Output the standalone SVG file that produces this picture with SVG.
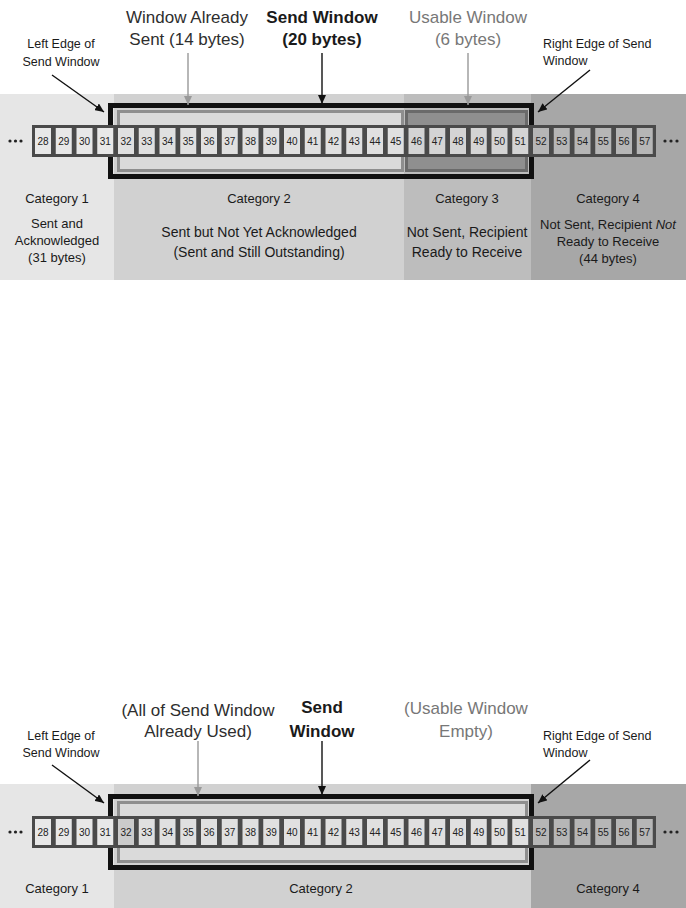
<svg xmlns="http://www.w3.org/2000/svg" xmlns:xlink="http://www.w3.org/1999/xlink" width="686" height="908" viewBox="0 0 686 908">
<defs>
<style>
text{font-family:"Liberation Sans",Arial,sans-serif;fill:#1a1a1a}
.hd{font-size:17px;text-anchor:middle}
.hdb{font-size:17px;text-anchor:middle;font-weight:bold}
.gr{fill:#777}
.dk{fill:#2e2e2e}
.sm{font-size:12.5px}
.mid{text-anchor:middle}
.cat{font-size:13px;text-anchor:middle}
.d13{font-size:13px;text-anchor:middle}
.d14{font-size:14px;text-anchor:middle}
.num{font-size:10px;text-anchor:middle;fill:#222}
.row{fill:#4a4a4a}
.c1{fill:#e8e8e8}
.c2{fill:#e0e0e0}
.c3{fill:#d4d4d4}
.c4{fill:#b6b6b6}
.c2d{fill:#cbcbcb}
.win{fill:none;stroke:#111;stroke-width:5}
.sent{fill:#dadada;stroke:#8e8e8e;stroke-width:3}
.usable{fill:#8f8f8f;stroke:#6a6a6a;stroke-width:3}
.ak{stroke:#111;stroke-width:1.4;fill:none}
.ag{stroke:#999;stroke-width:1.4;fill:none}
.dot{fill:#222}
</style>
<marker id="hk" markerUnits="userSpaceOnUse" markerWidth="10" markerHeight="8" refX="9" refY="4" orient="auto"><path d="M0,0 L9,4 L0,8 z" fill="#111"/></marker>
<marker id="hg" markerUnits="userSpaceOnUse" markerWidth="10" markerHeight="8" refX="9" refY="4" orient="auto"><path d="M0,0 L9,4 L0,8 z" fill="#999"/></marker>
</defs>

<!-- ===== TOP DIAGRAM ===== -->
<g id="top-bands">
<rect x="0" y="94" width="114" height="186" fill="#e6e6e6"/>
<rect x="114" y="94" width="290" height="186" fill="#d1d1d1"/>
<rect x="404" y="94" width="127" height="186" fill="#bdbdbd"/>
<rect x="531" y="94" width="155" height="186" fill="#a7a7a7"/>
</g>

<g id="top-send-window">
<rect class="win" x="110.5" y="105.5" width="421" height="71"/>
</g>
<g id="top-window-already-sent">
<rect class="sent" x="118.5" y="111.5" width="284" height="59"/>
</g>
<g id="top-usable-window">
<rect class="usable" x="406.5" y="111.5" width="120" height="59"/>
</g>

<g id="top-bytes">
<rect class="row" x="32" y="125" width="624" height="32"/>
<g transform="translate(0,128)">
<rect class="c1" x="35" width="16" height="26"/><rect class="c1" x="55.75" width="16" height="26"/><rect class="c1" x="76.5" width="16" height="26"/><rect class="c1" x="97.25" width="16" height="26"/>
<rect class="c2" x="118" width="16" height="26"/><rect class="c2" x="138.75" width="16" height="26"/><rect class="c2" x="159.5" width="16" height="26"/><rect class="c2" x="180.25" width="16" height="26"/><rect class="c2" x="201" width="16" height="26"/><rect class="c2" x="221.75" width="16" height="26"/><rect class="c2" x="242.5" width="16" height="26"/><rect class="c2" x="263.25" width="16" height="26"/><rect class="c2" x="284" width="16" height="26"/><rect class="c2" x="304.75" width="16" height="26"/><rect class="c2" x="325.5" width="16" height="26"/><rect class="c2" x="346.25" width="16" height="26"/><rect class="c2" x="367" width="16" height="26"/><rect class="c2" x="387.75" width="16" height="26"/>
<rect class="c3" x="408.5" width="16" height="26"/><rect class="c3" x="429.25" width="16" height="26"/><rect class="c3" x="450" width="16" height="26"/><rect class="c3" x="470.75" width="16" height="26"/><rect class="c3" x="491.5" width="16" height="26"/><rect class="c3" x="512.25" width="16" height="26"/>
<rect class="c4" x="533" width="16" height="26"/><rect class="c4" x="553.75" width="16" height="26"/><rect class="c4" x="574.5" width="16" height="26"/><rect class="c4" x="595.25" width="16" height="26"/><rect class="c4" x="616" width="16" height="26"/><rect class="c4" x="636.75" width="16" height="26"/>
</g>
<g transform="translate(0,144.5)">
<text class="num" x="43">28</text><text class="num" x="63.75">29</text><text class="num" x="84.5">30</text><text class="num" x="105.25">31</text><text class="num" x="126">32</text><text class="num" x="146.75">33</text><text class="num" x="167.5">34</text><text class="num" x="188.25">35</text><text class="num" x="209">36</text><text class="num" x="229.75">37</text><text class="num" x="250.5">38</text><text class="num" x="271.25">39</text><text class="num" x="292">40</text><text class="num" x="312.75">41</text><text class="num" x="333.5">42</text><text class="num" x="354.25">43</text><text class="num" x="375">44</text><text class="num" x="395.75">45</text><text class="num" x="416.5">46</text><text class="num" x="437.25">47</text><text class="num" x="458">48</text><text class="num" x="478.75">49</text><text class="num" x="499.5">50</text><text class="num" x="520.25">51</text><text class="num" x="541">52</text><text class="num" x="561.75">53</text><text class="num" x="582.5">54</text><text class="num" x="603.25">55</text><text class="num" x="624">56</text><text class="num" x="644.75">57</text>
</g>
<circle class="dot" cx="10" cy="141" r="1.6"/><circle class="dot" cx="15.5" cy="141" r="1.6"/><circle class="dot" cx="21" cy="141" r="1.6"/>
<circle class="dot" cx="665" cy="141" r="1.6"/><circle class="dot" cx="671" cy="141" r="1.6"/><circle class="dot" cx="677" cy="141" r="1.6"/>
</g>

<g id="top-labels">
<text class="hd dk" x="187" y="23">Window Already</text>
<text class="hd dk" x="187" y="45">Sent (14 bytes)</text>
<text class="hdb" x="322" y="23">Send Window</text>
<text class="hdb" x="322" y="45">(20 bytes)</text>
<text class="hd gr" x="468" y="23">Usable Window</text>
<text class="hd gr" x="468" y="45">(6 bytes)</text>
<text class="sm mid" x="61" y="48">Left Edge of</text>
<text class="sm mid" x="61" y="66">Send Window</text>
<text class="sm" x="543" y="48">Right Edge of Send</text>
<text class="sm" x="543" y="65">Window</text>
</g>

<g id="top-categories">
<text class="cat" x="57" y="203">Category 1</text>
<text class="d13" x="57" y="228">Sent and</text>
<text class="d13" x="57" y="245">Acknowledged</text>
<text class="d13" x="57" y="262">(31 bytes)</text>
<text class="cat" x="259" y="203">Category 2</text>
<text class="d14" x="259" y="237">Sent but Not Yet Acknowledged</text>
<text class="d14" x="259" y="257">(Sent and Still Outstanding)</text>
<text class="cat" x="467" y="203">Category 3</text>
<text class="d14" x="467" y="237">Not Sent, Recipient</text>
<text class="d14" x="467" y="257">Ready to Receive</text>
<text class="cat" x="608" y="203">Category 4</text>
<text class="d13" x="608" y="229">Not Sent, Recipient <tspan font-style="italic">Not</tspan></text>
<text class="d13" x="608" y="246">Ready to Receive</text>
<text class="d13" x="608" y="263">(44 bytes)</text>
</g>

<g id="top-connectors">
<line class="ak" x1="52" y1="75" x2="104" y2="112" marker-end="url(#hk)"/>
<line class="ag" x1="188" y1="53" x2="188" y2="105" marker-end="url(#hg)"/>
<line class="ak" x1="322" y1="53" x2="322" y2="104" marker-end="url(#hk)"/>
<line class="ag" x1="468" y1="53" x2="468" y2="105" marker-end="url(#hg)"/>
<line class="ak" x1="590" y1="70" x2="538" y2="112" marker-end="url(#hk)"/>
</g>

<!-- ===== BOTTOM DIAGRAM ===== -->
<g id="bottom-bands">
<rect x="0" y="784" width="114" height="124" fill="#e6e6e6"/>
<rect x="114" y="784" width="417" height="124" fill="#d1d1d1"/>
<rect x="531" y="784" width="155" height="124" fill="#a7a7a7"/>
</g>

<g id="bottom-send-window">
<rect class="win" x="110.5" y="796.5" width="421" height="71"/>
</g>
<g id="bottom-window-already-sent">
<rect class="sent" x="118.5" y="802.5" width="408" height="59"/>
</g>

<g id="bottom-bytes">
<rect class="row" x="32" y="816" width="624" height="32"/>
<g transform="translate(0,819)">
<rect class="c1" x="35" width="16" height="26"/><rect class="c1" x="55.75" width="16" height="26"/><rect class="c1" x="76.5" width="16" height="26"/><rect class="c1" x="97.25" width="16" height="26"/>
<rect class="c2d" x="118" width="16" height="26"/><rect class="c2" x="138.75" width="16" height="26"/><rect class="c2" x="159.5" width="16" height="26"/><rect class="c2" x="180.25" width="16" height="26"/><rect class="c2" x="201" width="16" height="26"/><rect class="c2" x="221.75" width="16" height="26"/><rect class="c2" x="242.5" width="16" height="26"/><rect class="c2" x="263.25" width="16" height="26"/><rect class="c2" x="284" width="16" height="26"/><rect class="c2" x="304.75" width="16" height="26"/><rect class="c2" x="325.5" width="16" height="26"/><rect class="c2" x="346.25" width="16" height="26"/><rect class="c2" x="367" width="16" height="26"/><rect class="c2" x="387.75" width="16" height="26"/>
<rect class="c2" x="408.5" width="16" height="26"/><rect class="c2" x="429.25" width="16" height="26"/><rect class="c2" x="450" width="16" height="26"/><rect class="c2" x="470.75" width="16" height="26"/><rect class="c2" x="491.5" width="16" height="26"/><rect class="c2" x="512.25" width="16" height="26"/>
<rect class="c4" x="533" width="16" height="26"/><rect class="c4" x="553.75" width="16" height="26"/><rect class="c4" x="574.5" width="16" height="26"/><rect class="c4" x="595.25" width="16" height="26"/><rect class="c4" x="616" width="16" height="26"/><rect class="c4" x="636.75" width="16" height="26"/>
</g>
<g transform="translate(0,835.5)">
<text class="num" x="43">28</text><text class="num" x="63.75">29</text><text class="num" x="84.5">30</text><text class="num" x="105.25">31</text><text class="num" x="126">32</text><text class="num" x="146.75">33</text><text class="num" x="167.5">34</text><text class="num" x="188.25">35</text><text class="num" x="209">36</text><text class="num" x="229.75">37</text><text class="num" x="250.5">38</text><text class="num" x="271.25">39</text><text class="num" x="292">40</text><text class="num" x="312.75">41</text><text class="num" x="333.5">42</text><text class="num" x="354.25">43</text><text class="num" x="375">44</text><text class="num" x="395.75">45</text><text class="num" x="416.5">46</text><text class="num" x="437.25">47</text><text class="num" x="458">48</text><text class="num" x="478.75">49</text><text class="num" x="499.5">50</text><text class="num" x="520.25">51</text><text class="num" x="541">52</text><text class="num" x="561.75">53</text><text class="num" x="582.5">54</text><text class="num" x="603.25">55</text><text class="num" x="624">56</text><text class="num" x="644.75">57</text>
</g>
<circle class="dot" cx="10" cy="832" r="1.6"/><circle class="dot" cx="15.5" cy="832" r="1.6"/><circle class="dot" cx="21" cy="832" r="1.6"/>
<circle class="dot" cx="665" cy="832" r="1.6"/><circle class="dot" cx="671" cy="832" r="1.6"/><circle class="dot" cx="677" cy="832" r="1.6"/>
</g>

<g id="bottom-labels">
<text class="hd dk" x="198" y="716">(All of Send Window</text>
<text class="hd dk" x="198" y="737">Already Used)</text>
<text class="hdb" x="322" y="713">Send</text>
<text class="hdb" x="322" y="737">Window</text>
<text class="hd gr" x="466" y="714">(Usable Window</text>
<text class="hd gr" x="466" y="737">Empty)</text>
<text class="sm mid" x="61" y="740">Left Edge of</text>
<text class="sm mid" x="61" y="757">Send Window</text>
<text class="sm" x="543" y="740">Right Edge of Send</text>
<text class="sm" x="543" y="757">Window</text>
</g>

<g id="bottom-categories">
<text class="cat" x="57" y="893">Category 1</text>
<text class="cat" x="321" y="893">Category 2</text>
<text class="cat" x="608" y="893">Category 4</text>
</g>

<g id="bottom-connectors">
<line class="ak" x1="52" y1="765" x2="104" y2="803" marker-end="url(#hk)"/>
<line class="ag" x1="198" y1="741" x2="198" y2="796" marker-end="url(#hg)"/>
<line class="ak" x1="322" y1="741" x2="322" y2="795" marker-end="url(#hk)"/>
<line class="ak" x1="590" y1="760" x2="538" y2="803" marker-end="url(#hk)"/>
</g>
</svg>
